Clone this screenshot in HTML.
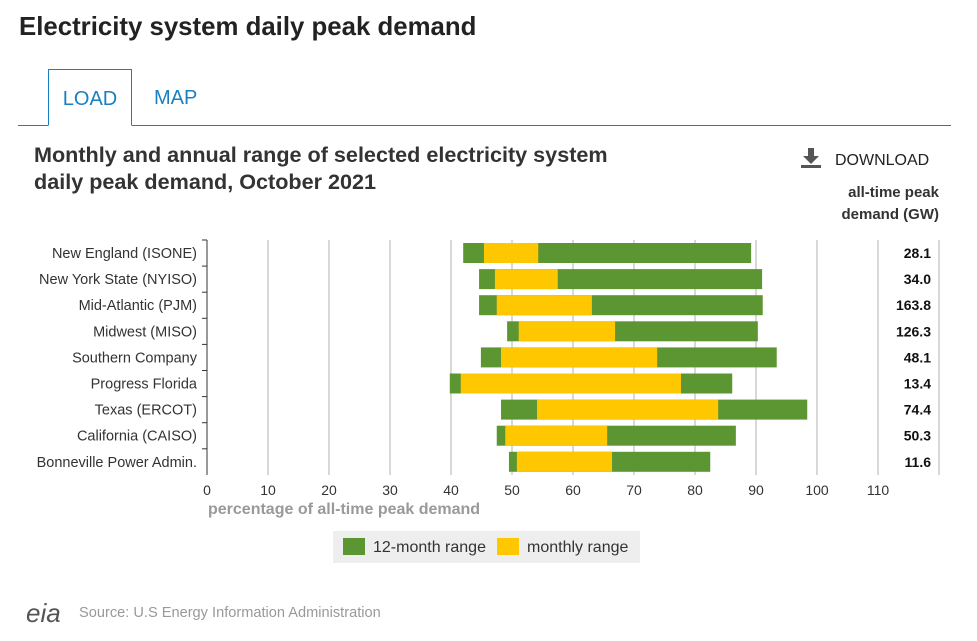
<!DOCTYPE html>
<html><head><meta charset="utf-8"><style>
body{margin:0;width:977px;height:641px;background:#fff;font-family:"Liberation Sans",Arial,sans-serif;position:relative;overflow:hidden}
.abs{position:absolute}
</style></head><body>
<div class="abs" style="left:19px;top:13px;font-size:25.8px;font-weight:bold;color:#222">Electricity system daily peak demand</div>
<div class="abs" style="left:48px;top:69px;width:84px;height:57px;border:1px solid #1a7fc1;border-bottom:1px solid #fff;box-sizing:border-box;color:#1a7fc1;font-size:20px;text-align:center;line-height:58px;background:#fff;z-index:2">LOAD</div>
<div class="abs" style="left:154px;top:87px;color:#1a7fc1;font-size:20px">MAP</div>
<div class="abs" style="left:18px;top:125px;width:933px;height:1px;background:#1a7fc1"></div>
<div class="abs" style="left:34px;top:141px;font-size:21.6px;font-weight:bold;color:#333;line-height:27px">Monthly and annual range of selected electricity system<br>daily peak demand, October 2021</div>
<div class="abs" style="left:800px;top:147px;font-size:16px;color:#222"><svg width="22" height="22" style="vertical-align:-4px;margin-right:13px"><rect x="8" y="1" width="6" height="9" fill="#555"/><polygon points="3,9 19,9 11,17" fill="#555"/><rect x="1" y="18" width="20" height="3" fill="#555"/></svg>DOWNLOAD</div>
<div class="abs" style="right:38px;top:182px;font-size:15px;font-weight:bold;color:#333;text-align:right;line-height:22px">all-time peak<br>demand (GW)</div>
<svg class="abs" style="left:0;top:0" width="977" height="641" id="chart"></svg>
<div class="abs" style="left:333px;top:531px;width:307px;height:32px;background:#eee;font-size:16px;color:#333">
<span style="position:absolute;left:10px;top:7px"><span style="display:inline-block;width:22px;height:17px;background:#5c9632;vertical-align:-3px;margin-right:8px"></span>12-month range</span>
<span style="position:absolute;left:164px;top:7px"><span style="display:inline-block;width:22px;height:17px;background:#ffc700;vertical-align:-3px;margin-right:8px"></span>monthly range</span>
</div>
<div class="abs" style="left:26px;top:598px;font-size:26px;color:#555;font-style:italic">eia</div>
<div class="abs" style="left:79px;top:605px;font-size:14.6px;color:#999">Source: U.S Energy Information Administration</div>
<script>
const regions=["New England (ISONE)","New York State (NYISO)","Mid-Atlantic (PJM)","Midwest (MISO)","Southern Company","Progress Florida","Texas (ERCOT)","California (CAISO)","Bonneville Power Admin."];
const annualMin=[42.0,44.6,44.6,49.2,44.9,39.8,48.2,47.5,49.5];
const monthlyMin=[45.4,47.2,47.5,51.1,48.2,41.6,54.1,48.9,50.8];
const monthlyMax=[54.3,57.5,63.1,66.9,73.8,77.7,83.8,65.6,66.4];
const annualMax=[89.2,91.0,91.1,90.3,93.4,86.1,98.4,86.7,82.5];
const peakGW=["28.1","34.0","163.8","126.3","48.1","13.4","74.4","50.3","11.6"];
const ticks=[0,10,20,30,40,50,60,70,80,90,100,110];
const svg=document.getElementById('chart');const NS='http://www.w3.org/2000/svg';
const x=v=>207+v*6.1;const y=i=>253+i*26.1;
function mk(t,a,txt){const e=document.createElementNS(NS,t);for(const k in a)e.setAttribute(k,a[k]);if(txt!=null)e.textContent=txt;svg.appendChild(e);return e;}
ticks.forEach(t=>{if(t>0){const g=mk('line',{x1:x(t),x2:x(t),y1:240,y2:475,stroke:'#ccc','stroke-width':1.5});

}
const l=mk('text',{x:x(t),y:495,'text-anchor':'middle','font-size':14,fill:'#333','font-family':'Liberation Sans'},t);

});
const r=mk('line',{x1:939,x2:939,y1:240,y2:475,stroke:'#ccc','stroke-width':1.5});


const ax=mk('line',{x1:207,x2:207,y1:240,y2:475,stroke:'#333','stroke-width':1});


regions.forEach((n,i)=>{
const tk=mk('line',{x1:202,x2:207,y1:y(i)-13,y2:y(i)-13,stroke:'#333'});


const lb=mk('text',{x:197,y:y(i)+5,'text-anchor':'end','font-size':14.5,fill:'#333','font-family':'Liberation Sans'},n);


const g=mk('rect',{x:x(annualMin[i]),y:y(i)-10,width:x(annualMax[i])-x(annualMin[i]),height:20,fill:'#5c9632'});


const m=mk('rect',{x:x(monthlyMin[i]),y:y(i)-10,width:x(monthlyMax[i])-x(monthlyMin[i]),height:20,fill:'#ffc700'});


const p=mk('text',{x:931,y:y(i)+5,'text-anchor':'end','font-size':14,'font-weight':'bold',fill:'#111','font-family':'Liberation Sans'},peakGW[i]);


});
const xt=mk('text',{x:208,y:514,'font-size':16,'font-weight':'bold',fill:'#999','font-family':'Liberation Sans'},'percentage of all-time peak demand');


</script>
</body></html>
